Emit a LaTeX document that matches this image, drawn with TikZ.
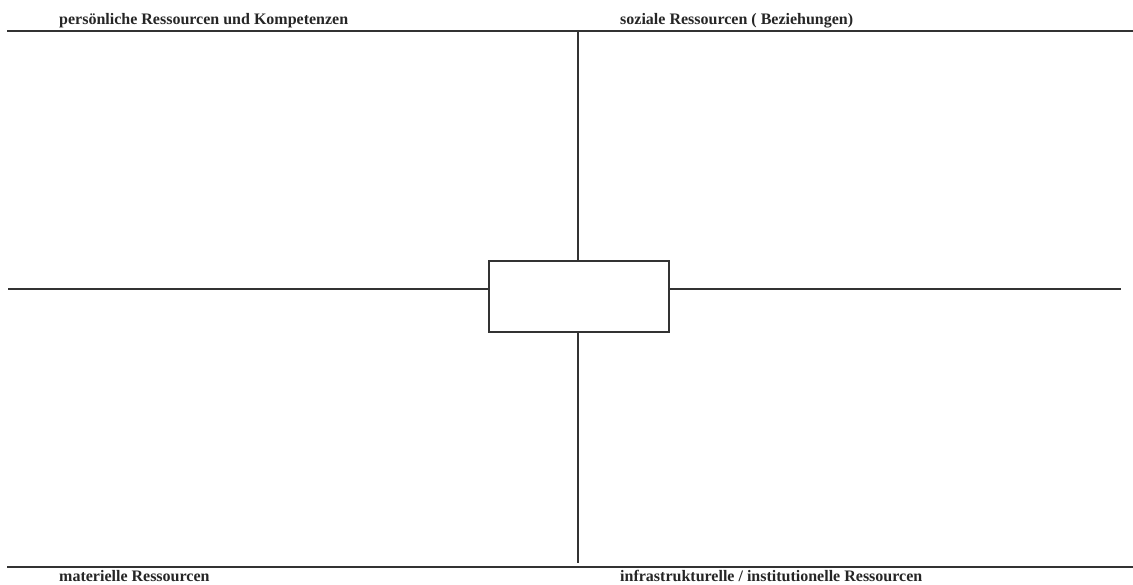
\documentclass[tikz,border=0pt]{standalone}
\usepackage{fontspec}
\setmainfont{Liberation Serif}
\begin{document}
\begin{tikzpicture}[x=1pt,y=-1pt,
  rule/.style={line width=1.6pt,draw=black!80},
  lbl/.style={font=\fontsize{16}{18}\selectfont\bfseries,anchor=base west,inner sep=0pt,text=black!85}]
\useasboundingbox (0,0) rectangle (1133,585);
% outer rules
\coordinate (tl) at (7,31);
\coordinate (tr) at (1133,31);
\coordinate (bl) at (7,567);
\coordinate (br) at (1133,567);
\draw[rule] (tl) -- (tr);
\draw[rule] (bl) -- (br);
% centre box
\node[draw=black!80,line width=1.6pt,minimum width=180pt,minimum height=71pt,inner sep=0pt] (box) at (579,296.5) {};
% cross lines
\coordinate (vt) at (578,31);
\coordinate (vb) at (578,563);
\coordinate (hl) at (8,289);
\coordinate (hr) at (1121,289);
\draw[rule] (vt) -- (box.north -| vt);
\draw[rule] (box.south -| vb) -- (vb);
\draw[rule] (hl) -- (box.west |- hl);
\draw[rule] (box.east |- hr) -- (hr);
% labels
\node[lbl] (l1) at (59,25) {persönliche Ressourcen und Kompetenzen};
\node[lbl] (l2) at (620,25) {soziale Ressourcen ( Beziehungen)};
\node[lbl] (l3) at (59,581) {materielle Ressourcen};
\node[lbl] (l4) at (620,581) {infrastrukturelle / institutionelle Ressourcen};
\end{tikzpicture}
\end{document}
